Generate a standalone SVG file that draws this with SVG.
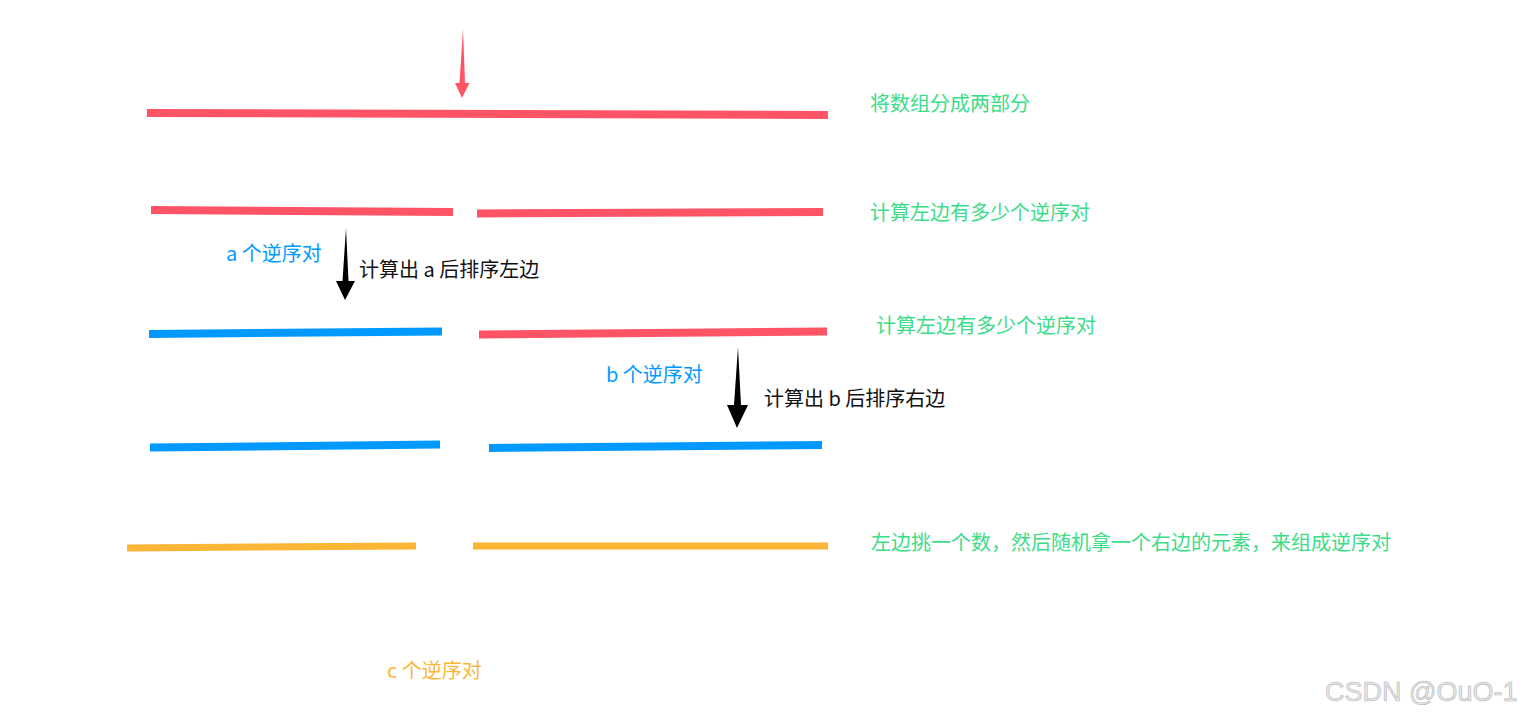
<svg xmlns="http://www.w3.org/2000/svg" width="1521" height="718" viewBox="0 0 1521 718">
<style>
.red{stroke:#ff5466;stroke-width:8;fill:none}
.blue{stroke:#0099ff;stroke-width:8;fill:none}
.orange{stroke:#fcb636;stroke-width:7;fill:none}
text{font-family:"Microsoft YaHei","Noto Sans CJK SC","Noto Sans",sans-serif}
.g{fill:#3ddc88;font-size:20px}
.k{fill:#111;font-size:20px}
.b{fill:#0099ff;font-size:20px}
.o{fill:#fcb636;font-size:20px}
</style>
<rect width="1521" height="718" fill="#fff"/>
<g id="connectors">
<polygon points="463,29 465,83 469.5,83 462,98 455,83 459.5,83" fill="#ff5466"/>
<polygon points="346,228 348.5,281 355,281 345,300 336,281 342.5,281" fill="#000"/>
<polygon points="738,347 741,405 748,405 737,428 727,405 734,405" fill="#000"/>
</g>
<g id="line1"><line class="red" x1="147" y1="113" x2="828" y2="115"/></g>
<g id="line2a"><line class="red" x1="151" y1="210" x2="453" y2="212"/></g>
<g id="line2b"><line class="red" x1="477" y1="213.5" x2="823" y2="212"/></g>
<g id="line3a"><line class="blue" x1="149" y1="334" x2="442" y2="331.5"/></g>
<g id="line3b"><line class="red" x1="479" y1="334.5" x2="827" y2="331.5"/></g>
<g id="line4a"><line class="blue" x1="150" y1="447.5" x2="440" y2="444.5"/></g>
<g id="line4b"><line class="blue" x1="489" y1="448" x2="822" y2="445"/></g>
<g id="line5a"><line class="orange" x1="127" y1="548" x2="416" y2="546"/></g>
<g id="line5b"><line class="orange" x1="473" y1="546" x2="828" y2="546"/></g>
<g id="labels">
<text class="g" x="870" y="111">将数组分成两部分</text>
<text class="g" x="870" y="220">计算左边有多少个逆序对</text>
<text class="b" x="226" y="261">a 个逆序对</text>
<text class="k" x="359" y="277">计算出 a 后排序左边</text>
<text class="g" x="876" y="333">计算左边有多少个逆序对</text>
<text class="b" x="606" y="382">b 个逆序对</text>
<text class="k" x="764" y="406">计算出 b 后排序右边</text>
<text class="g" x="871" y="550">左边挑一个数，然后随机拿一个右边的元素，来组成逆序对</text>
<text class="o" x="387" y="678">c 个逆序对</text>
<text x="1325" y="701" style="font-family:'Liberation Sans',Arial,sans-serif;font-size:27px;fill:#e6e6e6;stroke:#b8b8b8;stroke-width:0.6">CSDN @OuO-1</text>
</g>
</svg>
